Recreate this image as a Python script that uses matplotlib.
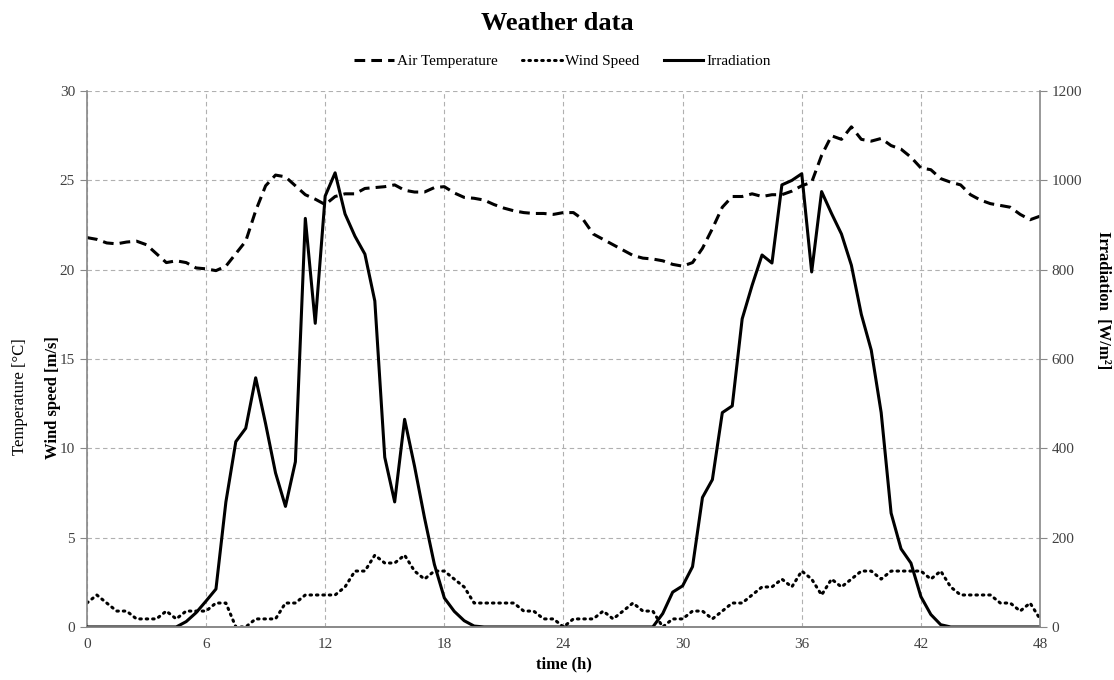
import numpy as np
import matplotlib
matplotlib.use("Agg")
import matplotlib.pyplot as plt
from matplotlib.lines import Line2D

plt.rcParams['font.family'] = ['Liberation Serif', 'DejaVu Serif']

# half-hourly readings over 48 h
time_h = np.arange(0, 48.5, 0.5)

air_temp = [21.8, 21.7, 21.5, 21.45, 21.55, 21.6, 21.4, 20.9, 20.4, 20.5,
            20.4, 20.1, 20.05, 19.95, 20.2, 20.9, 21.6, 23.3, 24.7, 25.3,
            25.2, 24.7, 24.2, 23.95, 23.65, 24.1, 24.25, 24.25, 24.55, 24.6,
            24.65, 24.75, 24.45, 24.35, 24.35, 24.6, 24.65, 24.3, 24.05, 24.0,
            23.9, 23.65, 23.45, 23.3, 23.2, 23.15, 23.15, 23.1, 23.2, 23.2,
            22.8, 22.0, 21.7, 21.4, 21.1, 20.8, 20.65, 20.6, 20.5, 20.3,
            20.2, 20.4, 21.2, 22.3, 23.5, 24.1, 24.1, 24.25, 24.1, 24.2,
            24.2, 24.4, 24.7, 24.9, 26.4, 27.5, 27.3, 28.0, 27.3, 27.2,
            27.35, 26.95, 26.75, 26.3, 25.7, 25.6, 25.1, 24.9, 24.75, 24.2,
            23.9, 23.7, 23.6, 23.5, 23.1, 22.8, 23.0]

wind_speed = [1.34, 1.79, 1.34, 0.89, 0.89, 0.45, 0.45, 0.45, 0.89, 0.45,
              0.89, 0.89, 0.89, 1.34, 1.34, 0.0, 0.0, 0.45, 0.45, 0.45,
              1.34, 1.34, 1.79, 1.79, 1.79, 1.79, 2.24, 3.13, 3.13, 4.02,
              3.58, 3.58, 4.02, 3.13, 2.68, 3.13, 3.13, 2.68, 2.24, 1.34,
              1.34, 1.34, 1.34, 1.34, 0.89, 0.89, 0.45, 0.45, 0.0, 0.45,
              0.45, 0.45, 0.89, 0.45, 0.89, 1.34, 0.89, 0.89, 0.0, 0.45,
              0.45, 0.89, 0.89, 0.45, 0.89, 1.34, 1.34, 1.79, 2.24, 2.24,
              2.68, 2.24, 3.13, 2.68, 1.79, 2.68, 2.24, 2.68, 3.13, 3.13,
              2.68, 3.13, 3.13, 3.13, 3.13, 2.68, 3.13, 2.24, 1.79, 1.79,
              1.79, 1.79, 1.34, 1.34, 0.89, 1.34, 0.45]

irradiation = [0, 0, 0, 0, 0, 0, 0, 0, 0, 0,
               12, 32, 58, 85, 280, 415, 445, 558, 455, 345,
               270, 370, 915, 680, 965, 1017, 925, 875, 835, 730,
               380, 280, 465, 360, 245, 140, 65, 35, 14, 2,
               0, 0, 0, 0, 0, 0, 0, 0, 0, 0,
               0, 0, 0, 0, 0, 0, 0, 0, 30, 78,
               92, 135, 290, 330, 480, 495, 690, 765, 833, 815,
               990, 1000, 1015, 795, 975, 926, 880, 810, 700, 620,
               480, 255, 175, 143, 68, 28, 5, 0, 0, 0,
               0, 0, 0, 0, 0, 0, 0]

x_ticks = [0, 6, 12, 18, 24, 30, 36, 42, 48]
grey = '#888888'
tick_col = '#404040'
temp_dash = (0, (3.5, 2))
wind_dot = (0, (0.5, 1.6))

fig = plt.figure(figsize=(11.14, 6.8), dpi=100)
ax = fig.add_axes([0.078, 0.078, 0.8556, 0.788])
ax2 = ax.twinx()

ax.plot(time_h, air_temp, color='black', lw=2.2, ls=temp_dash,
        solid_joinstyle='round', label='Air Temperature')
ax.plot(time_h, wind_speed, color='black', lw=2.2, ls=wind_dot,
        dash_capstyle='round', label='Wind Speed')
ax2.plot(time_h, irradiation, color='black', lw=2.2, solid_joinstyle='round',
         label='Irradiation')

ax.set_xlim(0, 48)
ax.set_ylim(0, 30)
ax2.set_ylim(0, 1200)
ax.set_xticks(x_ticks)
ax.set_yticks(range(0, 31, 5))
ax2.set_yticks(range(0, 1201, 200))

ax.grid(True, color='#b0b0b0', ls=(0, (4, 3)), lw=0.8)
ax.set_axisbelow(True)

for a in (ax, ax2):
    a.spines['top'].set_visible(False)
    for s in ('left', 'right', 'bottom'):
        a.spines[s].set_color(grey)
        a.spines[s].set_linewidth(1.2)
    a.tick_params(colors=grey, labelcolor=tick_col, labelsize=11, length=5)
ax.spines['right'].set_visible(False)
ax2.spines['left'].set_visible(False)
ax.tick_params(axis='x', length=0, pad=8)

ax.set_xlabel('time (h)', fontsize=12, fontweight='bold', labelpad=4)

# axis titles placed by hand, as in the original sheet
fig.text(0.990, 0.559, 'Irradiation  [W/m²]', rotation=-90, fontsize=12,
         fontweight='bold', ha='center', va='center')
fig.text(0.018, 0.416, 'Temperature [°C]', rotation=90, fontsize=12,
         ha='center', va='center')
fig.text(0.048, 0.416, 'Wind speed [m/s]', rotation=90, fontsize=12,
         fontweight='bold', ha='center', va='center')

fig.suptitle('Weather data', fontsize=19, fontweight='bold', y=0.982)

handles = [Line2D([], [], color='black', lw=2.2, ls=temp_dash),
           Line2D([], [], color='black', lw=2.2, ls=wind_dot,
                  dash_capstyle='round'),
           Line2D([], [], color='black', lw=2.2)]
fig.legend(handles, ['Air Temperature', 'Wind Speed', 'Irradiation'],
           loc='center', bbox_to_anchor=(0.505, 0.91), ncol=3, frameon=False,
           fontsize=11, handlelength=2.6, handletextpad=0.2, columnspacing=1.6)

fig.savefig('out.png', dpi=100)
